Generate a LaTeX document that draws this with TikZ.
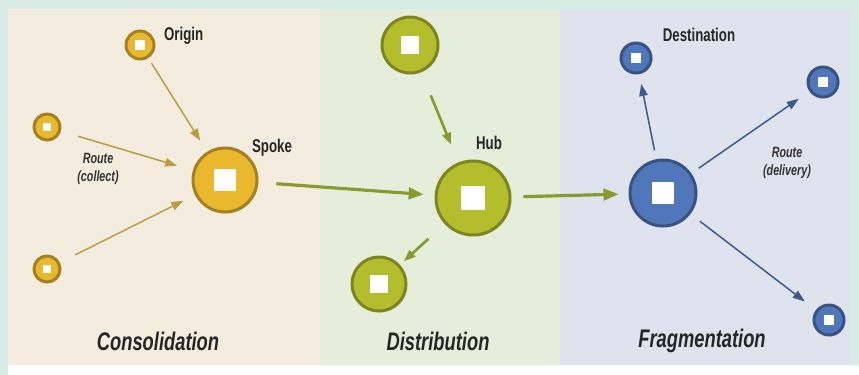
\documentclass[tikz,border=0pt]{standalone}
\usepackage{fontspec}
\setmainfont{Liberation Sans}
\newfontfamily\narrowfont[FakeStretch=0.72]{Liberation Sans}
\usetikzlibrary{arrows.meta,calc,shadows}
\definecolor{mint}{HTML}{D6ECE4}
\definecolor{bgc}{HTML}{F4ECDF}
\definecolor{bgd}{HTML}{E4EEDB}
\definecolor{bgf}{HTML}{DEE3EE}
\definecolor{gd}{HTML}{E9B82C}
\definecolor{gn}{HTML}{B4BE2C}
\definecolor{bl}{HTML}{5077BA}
\definecolor{gdl}{HTML}{BC9C3C}
\definecolor{gnl}{HTML}{8A9A2C}
\definecolor{bll}{HTML}{3D5A8C}

\begin{document}
\begin{tikzpicture}[x=0.02cm,y=-0.02cm,
    stop/.style={circle,draw=#1!70!black,fill=#1,line width=1.7pt,inner sep=0pt,
      drop shadow={opacity=0.3,shadow xshift=0.8pt,shadow yshift=-0.8pt},
      path picture={\fill[white] ($(path picture bounding box.center)!0.33!(path picture bounding box.south west)$)
        rectangle ($(path picture bounding box.center)!0.33!(path picture bounding box.north east)$);}},
    tag/.style={font=\narrowfont\bfseries\fontsize{10.5}{12}\selectfont,text=black!85,inner sep=1pt},
    route/.style={font=\narrowfont\bfseries\itshape\fontsize{8.5}{10.5}\selectfont,text=black!80,align=center,inner sep=1pt},
    phase/.style={font=\narrowfont\bfseries\itshape\fontsize{14.5}{16}\selectfont,text=black!85,inner sep=1pt},
    arr/.style={-{Triangle[length=2.4mm,width=1.7mm]},line width=0.85pt,#1},
    trunk/.style={-{Triangle[length=3mm,width=2.3mm]},line width=1.8pt,gnl},
]
\useasboundingbox (0,0) rectangle (859,375);

% Panels
\fill[mint] (0,0) rectangle (859,375);
\fill[bgc] (8,9) rectangle (320,365);
\fill[bgd] (320,9) rectangle (560,365);
\fill[bgf] (560,9) rectangle (851,365);
\fill[white] (8,365) rectangle (859,375);

% Consolidation
\node[stop=gd,minimum size=0.56cm] (origin) at (140,45) {};
\node[stop=gd,minimum size=0.52cm] (leftA) at (47,127) {};
\node[stop=gd,minimum size=0.52cm] (leftB) at (47,269) {};
\node[stop=gd,minimum size=1.28cm] (spoke) at (225,180) {};

% Distribution
\node[stop=gn,minimum size=1.12cm] (feeder) at (410,45) {};
\node[stop=gn,minimum size=1.48cm] (hub) at (473,198) {};
\node[stop=gn,minimum size=1.08cm] (branch) at (379,284) {};

% Fragmentation
\node[stop=bl,minimum size=1.32cm] (fan) at (663,193) {};
\node[stop=bl,minimum size=0.6cm] (dest) at (636,58) {};
\node[stop=bl,minimum size=0.6cm] (destR) at (823,82) {};
\node[stop=bl,minimum size=0.6cm] (destB) at (829,320) {};

% Labels
\node[tag,anchor=west] (origin-l) at (162,36) {Origin};
\node[tag,anchor=west] (spoke-l) at (250,148) {Spoke};
\node[tag] (hub-l) at (489,143) {Hub};
\node[tag] (dest-l) at (699,35) {Destination};
\node[route] (collect) at (98,169) {Route\\(collect)};
\node[route] (delivery) at (787,163) {Route\\(delivery)};
\node[phase] (cons) at (158,341) {Consolidation};
\node[phase] (dist) at (438,341) {Distribution};
\node[phase] (frag) at (702,341) {Fragmentation};

% Connections
\draw[arr=gdl,shorten <=0.12cm,shorten >=0.26cm] (origin) -- (spoke);
\draw[arr=gdl,shorten <=0.36cm,shorten >=0.33cm] (leftA) -- (spoke);
\draw[arr=gdl,shorten <=0.34cm,shorten >=0.26cm] (leftB) -- (spoke);
\draw[trunk,shorten <=0.36cm,shorten >=0.22cm] (spoke) -- (hub);
\draw[arr=gnl,line width=1.5pt,shorten <=0.5cm,shorten >=0.38cm] (feeder) -- (hub);
\draw[arr=gnl,line width=1.5pt,shorten <=0.44cm,shorten >=0.1cm] (hub) -- (branch);
\draw[trunk,shorten <=0.24cm,shorten >=0.2cm] (hub) -- (fan);
\draw[arr=bll,shorten <=0.18cm,shorten >=0.2cm] (fan) -- (dest);
\draw[arr=bll,shorten <=0.18cm,shorten >=0.26cm] (fan) -- (destR);
\draw[arr=bll,shorten <=0.24cm,shorten >=0.28cm] (fan) -- (destB);
\end{tikzpicture}
\end{document}
